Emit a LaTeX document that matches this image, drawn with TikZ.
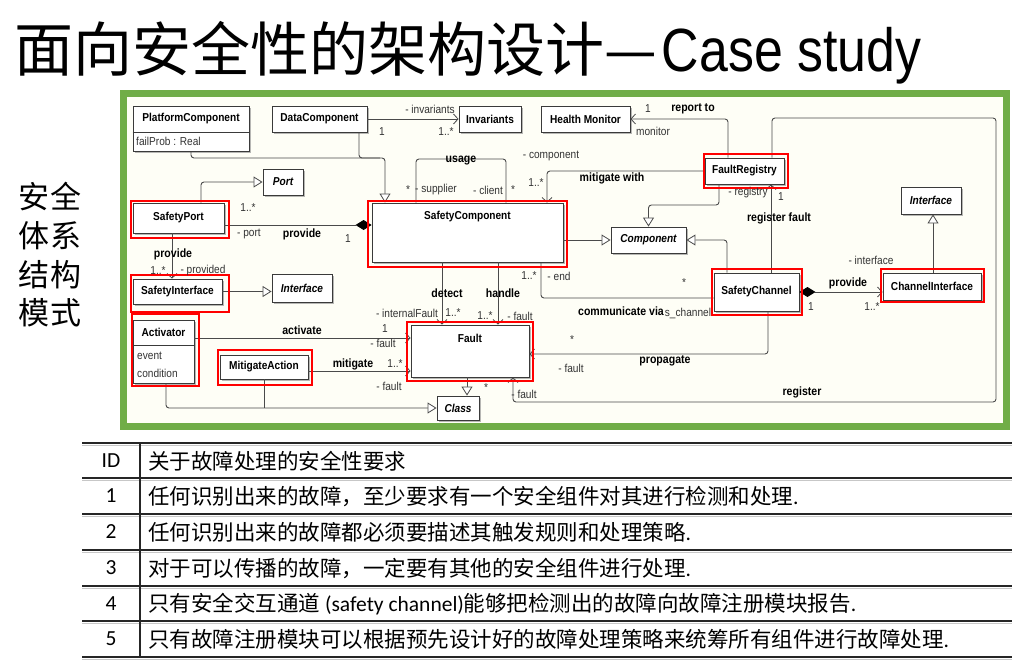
\documentclass[tikz,border=0pt]{standalone}
\usepackage{fontspec}
\setmainfont{Carlito}
\newfontfamily\cjk{Noto Sans CJK SC}
\newfontfamily\umlf[FakeStretch=0.88]{Liberation Sans}
\newfontfamily\titlelat[FakeStretch=0.85]{Liberation Sans}
\usetikzlibrary{arrows.meta,shadows}
\definecolor{frameg}{HTML}{70AD47}
\definecolor{cream}{HTML}{FEFEF6}
\definecolor{lnc}{HTML}{4A4A4A}
\definecolor{boxc}{HTML}{3A3A3A}
\definecolor{txtc}{HTML}{333333}
\tikzset{
 umlbox/.style={draw=boxc, line width=0.9pt, fill=white, inner sep=0pt,
   drop shadow={shadow xshift=1.6pt, shadow yshift=-1.6pt, fill=black!40, opacity=0.7}},
 hl/.style={draw=red, line width=2.8pt},
 conn/.style={draw=lnc, line width=0.9pt, rounded corners=3pt},
 assoc/.style={conn, -{Straight Barb[length=4.5pt, width=10pt, line width=0.8pt]}},
 gen/.style={conn, -{Triangle[length=9pt, width=11pt, line width=0.8pt, fill=white]}},
 compo/.style={conn, {Diamond[length=16pt, width=10pt, fill=black, color=black]}-{Straight Barb[length=4.5pt, width=10pt, line width=0.8pt]}},
 compoA/.style={conn, -{Diamond[length=16pt, width=10pt, fill=black, color=black]}},
 lab/.style={font=\umlf\fontsize{11.5}{13}\selectfont, text=txtc, inner sep=0pt},
 blab/.style={font=\umlf\bfseries\fontsize{12}{14}\selectfont, text=black, inner sep=0pt},
 btitle/.style={font=\umlf\bfseries\fontsize{11.5}{13}\selectfont},
 bititle/.style={font=\umlf\bfseries\itshape\fontsize{11.5}{13}\selectfont},
 rowt/.style={font=\fontsize{21.5}{24}\selectfont, inner sep=0pt},
 vt/.style={font=\cjk\fontsize{31}{33}\selectfont, inner sep=0pt},
}
\begin{document}
\begin{tikzpicture}[x=1pt,y=-1pt]
\useasboundingbox (0,0) rectangle (1025,661);
\fill[white] (0,0) rectangle (1025,661);
% title
\node[anchor=base west, inner sep=0pt, font=\cjk\fontsize{59}{61}\selectfont] (title) at (14,71)
  {面向安全性的架构设计—\kern5pt{\titlelat\fontsize{61}{63}\selectfont Case study}};
% vertical text
\node[vt] (v1) at (50,197) {安全};
\node[vt] (v2) at (50,236) {体系};
\node[vt] (v3) at (50,275) {结构};
\node[vt] (v4) at (50,313) {模式};
% frame
\draw[frameg, line width=7pt, fill=cream] (123.5,93.5) rectangle (1006.5,426.5);

% boxes
\node[umlbox, minimum width=116pt, minimum height=45pt] (platC) at (191,128.5) {};
\draw[boxc, line width=0.9pt] (platC.west |- 0,132) -- (platC.east |- 0,132);
\node[btitle] (platCt) at (191,119) {PlatformComponent};
\node[lab, anchor=west, text=black!80] (platCa) at (136,141) {failProb : Real};

\node[umlbox, minimum width=95pt, minimum height=26pt, btitle] (dataC) at (319.5,119) {DataComponent};
\node[umlbox, minimum width=62pt, minimum height=26pt, btitle] (invar) at (490,119) {Invariants};
\node[umlbox, minimum width=89pt, minimum height=26pt, btitle] (hm) at (585.5,119) {Health Monitor};
\node[umlbox, minimum width=79pt, minimum height=26pt, btitle] (fReg) at (744.5,171) {FaultRegistry};
\node[umlbox, minimum width=40pt, minimum height=26pt, bititle] (port) at (283,182) {Port};
\node[umlbox, minimum width=91pt, minimum height=30pt, btitle] (sPort) at (178.5,218) {SafetyPort};
\node[umlbox, minimum width=191pt, minimum height=59pt] (safeC) at (467.5,232.5) {};
\node[btitle] (safeCt) at (467.5,217) {SafetyComponent};
\node[umlbox, minimum width=60pt, minimum height=27pt, bititle] (ifaceR) at (931,200.5) {Interface};
\node[umlbox, minimum width=75pt, minimum height=26pt, bititle] (comp) at (648.5,240) {Component};
\node[umlbox, minimum width=85pt, minimum height=38pt, btitle] (sChan) at (756.5,292) {SafetyChannel};
\node[umlbox, minimum width=98pt, minimum height=27pt, btitle] (chIf) at (932,286.5) {ChannelInterface};
\node[umlbox, minimum width=89pt, minimum height=25pt, btitle] (sIface) at (177.5,291.5) {SafetyInterface};
\node[umlbox, minimum width=60pt, minimum height=28pt, bititle] (ifaceL) at (302,288) {Interface};
\node[umlbox, minimum width=61pt, minimum height=63pt] (act) at (163.5,351.5) {};
\draw[boxc, line width=0.9pt] (act.west |- 0,345) -- (act.east |- 0,345);
\node[btitle] (actt) at (163.5,332) {Activator};
\node[lab, anchor=west, text=black!80] (acte) at (137,356) {event};
\node[lab, anchor=west, text=black!80] (actc) at (137,373) {condition};
\node[umlbox, minimum width=88pt, minimum height=24pt, btitle] (mitA) at (264,367) {MitigateAction};
\node[umlbox, minimum width=118pt, minimum height=52pt] (fault) at (470,351) {};
\node[btitle] (faultt) at (470,338) {Fault};
\node[umlbox, minimum width=42pt, minimum height=24pt, bititle] (class) at (458,408) {Class};

% connectors
\draw[assoc] (dataC.east) -- (invar.west);
\draw[gen] (platC.south) |- (385,158) -- (385,0 |- safeC.north);
\draw[conn] (359,0 |- dataC.south) |- (380,158);
\draw[gen] (201,0 |- sPort.north) |- (port.west);
\draw[compoA] (0,225 -| sPort.east) -- (0,225 -| safeC.west);
\draw[assoc] (172,0 |- sPort.south) -- (172,0 |- sIface.north);
\draw[gen] (sIface.east) -- (sIface.east -| ifaceL.west);
\draw[assoc] (0,338 -| act.east) -- (0,338 -| fault.west);
\draw[assoc] (0,371 -| mitA.east) -- (0,371 -| fault.west);
\draw[gen] (166,0 |- act.south) |- (class.west);
\draw[conn] (264,0 |- mitA.south) -- (264,0 |- class.west);
\draw[gen] (467,0 |- fault.south) -- (467,0 |- class.north);
\draw[assoc] (442,0 |- safeC.south) -- (442,0 |- fault.north);
\draw[assoc] (498,0 |- safeC.south) -- (498,0 |- fault.north);
\draw[conn] (541,0 |- safeC.south) |- (0,298 -| sChan.west);
\draw[gen] (0,240 -| safeC.east) -- (comp.west);
\draw[gen] (727,0 |- sChan.north) |- (comp.east);
\draw[gen] (719,0 |- fReg.south) |- (648.5,205) -- (comp.north);
\draw[assoc] (fReg.west) -| (547,0 |- safeC.north);
\draw[assoc] (728,0 |- fReg.north) |- (hm.east);
\draw[assoc] (771,0 |- sChan.north) -- (771,0 |- fReg.south);
\draw[assoc] (772,0 |- fReg.north) |- (996,118) |- (513,402) -- (513,0 |- fault.south);
\draw[assoc] (768,0 |- sChan.south) |- (0,354 -| fault.east);
\draw[compo] (0,292 -| sChan.east) -- (0,292 -| chIf.west);
\draw[gen] (933,0 |- chIf.north) -- (933,0 |- ifaceR.south);
\draw[conn] (416,0 |- safeC.north) |- (506,159) -- (506,0 |- safeC.north);

% red highlights
\draw[hl] (131,201) rectangle (229,238);
\draw[hl] (368,201) rectangle (567,267);
\draw[hl] (704,154) rectangle (788,188);
\draw[hl] (712,269) rectangle (802,315);
\draw[hl] (881,269) rectangle (984,302);
\draw[hl] (131,275) rectangle (229,312);
\draw[hl] (132,314) rectangle (199,386);
\draw[hl] (218,350) rectangle (312,385);
\draw[hl] (407,322) rectangle (533,381);

% labels
\node[lab] (t1) at (430,109) {- invariants};
\node[lab] (t2) at (382,132) {1};
\node[lab] (t3) at (446,132) {1..*};
\node[blab] (t4) at (461,161) {usage};
\node[lab] (t5) at (408,190) {*};
\node[lab] (t6) at (436,190) {- supplier};
\node[lab] (t7) at (488,190) {- client};
\node[lab] (t8) at (513,190) {*};
\node[lab] (t9) at (551,156) {- component};
\node[lab] (t10) at (536,183) {1..*};
\node[blab] (t11) at (612,178) {mitigate with};
\node[lab] (t12) at (648,109) {1};
\node[blab] (t13) at (693,109) {report to};
\node[lab] (t14) at (653,131) {monitor};
\node[lab] (t15) at (748,193) {- registry};
\node[lab] (t16) at (781,197) {1};
\node[blab] (t17) at (779,218) {register fault};
\node[lab] (t18) at (248,208) {1..*};
\node[lab] (t19) at (249,234) {- port};
\node[blab] (t20) at (302,234) {provide};
\node[lab] (t21) at (348,239) {1};
\node[blab] (t22) at (173,254) {provide};
\node[lab] (t23) at (158,271) {1..*};
\node[lab] (t24) at (203,271) {- provided};
\node[blab] (t25) at (447,293) {detect};
\node[blab] (t26) at (503,293) {handle};
\node[lab] (t27) at (529,276) {1..*};
\node[lab] (t28) at (559,276) {- end};
\node[lab] (t29) at (407,313) {- internalFault};
\node[lab] (t30) at (453,313) {1..*};
\node[lab] (t31) at (485,316) {1..*};
\node[lab] (t32) at (520,316) {- fault};
\node[lab] (t33) at (684,283) {*};
\node[blab] (t34) at (621,311) {communicate via};
\node[lab] (t35) at (688,313) {s\_channel};
\node[blab] (t36) at (302,330) {activate};
\node[lab] (t37) at (385,329) {1};
\node[lab] (t38) at (383,343) {- fault};
\node[blab] (t39) at (353,364) {mitigate};
\node[lab] (t40) at (395,364) {1..*};
\node[lab] (t41) at (389,386) {- fault};
\node[lab] (t42) at (486,388) {*};
\node[lab] (t43) at (524,394) {- fault};
\node[lab] (t44) at (572,340) {*};
\node[lab] (t45) at (571,368) {- fault};
\node[blab] (t46) at (665,361) {propagate};
\node[blab] (t47) at (848,283) {provide};
\node[lab] (t48) at (871,260) {- interface};
\node[lab] (t49) at (811,307) {1};
\node[lab] (t50) at (872,307) {1..*};
\node[blab] (t51) at (802,392) {register};

% table
\foreach \yy in {443,478,514,550,586,621,657} {
  \draw[line width=1.6pt, black!85] (82,\yy) -- (1012,\yy);
  \draw[line width=1pt, black!22] (82,\yy+2) -- (1012,\yy+2);
}
\draw[line width=1.3pt, black!85] (140,443) -- (140,657);
\node[rowt] (id) at (111,461) {ID};
\node[rowt, anchor=west] (h0) at (148,461) {\cjk 关于故障处理的安全性要求};
\node[rowt] (n1) at (111,496) {1};
\node[rowt, anchor=west] (r1) at (148,496) {{\cjk 任何识别出来的故障，至少要求有一个安全组件对其进行检测和处理}.};
\node[rowt] (n2) at (111,532) {2};
\node[rowt, anchor=west] (r2) at (148,532) {{\cjk 任何识别出来的故障都必须要描述其触发规则和处理策略}.};
\node[rowt] (n3) at (111,568) {3};
\node[rowt, anchor=west] (r3) at (148,568) {{\cjk 对于可以传播的故障，一定要有其他的安全组件进行处理}.};
\node[rowt] (n4) at (111,604) {4};
\node[rowt, anchor=west] (r4) at (148,604) {{\cjk 只有安全交互通道} (safety channel){\cjk 能够把检测出的故障向故障注册模块报告}.};
\node[rowt] (n5) at (111,639) {5};
\node[rowt, anchor=west] (r5) at (148,639) {{\cjk 只有故障注册模块可以根据预先设计好的故障处理策略来统筹所有组件进行故障处理}.};
\end{tikzpicture}
\end{document}
